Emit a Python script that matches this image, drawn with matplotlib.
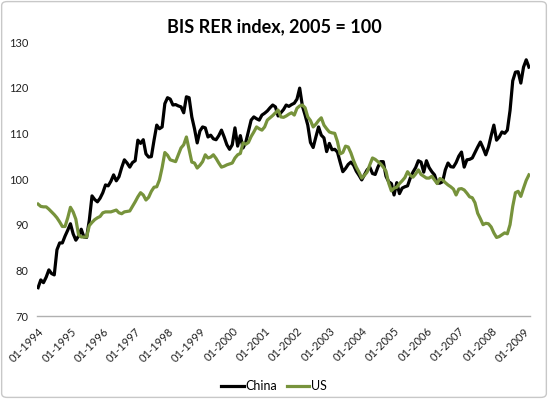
import matplotlib
matplotlib.use("Agg")
import matplotlib.pyplot as plt
from matplotlib.patches import FancyBboxPatch
import numpy as np

# monthly BIS real effective exchange rate, 2005 = 100, from 01-1994 to 03-2009
china = [
    76.2, 77.9, 77.3, 78.5, 80.1, 79.3, 79.0, 84.5, 86.0, 86.0, 87.5, 88.8,        # 1994
    90.2, 88.0, 86.6, 87.5, 89.0, 87.3, 87.2, 91.0, 96.3, 95.5, 95.0, 95.8,        # 1995
    97.0, 98.7, 98.5, 99.5, 100.9, 99.6, 100.5, 102.5, 104.2, 103.5, 102.6, 103.6, # 1996
    104.0, 108.5, 107.8, 108.6, 105.5, 104.8, 104.9, 108.5, 111.8, 111.0, 111.4, 116.5,  # 1997
    117.8, 117.5, 116.2, 116.3, 116.0, 115.8, 114.5, 118.0, 117.8, 113.6, 111.0, 107.9,  # 1998
    110.5, 111.4, 111.2, 109.2, 109.6, 108.8, 108.6, 109.5, 110.7, 109.2, 107.5, 106.5,  # 1999
    107.5, 111.2, 107.2, 109.5, 106.8, 108.0, 110.5, 112.9, 113.6, 113.2, 112.9, 114.0,  # 2000
    114.4, 114.9, 115.6, 116.2, 115.8, 113.8, 114.5, 115.2, 116.2, 115.9, 116.3, 116.6,  # 2001
    117.5, 119.9, 116.0, 114.0, 111.8, 108.0, 106.9, 109.2, 111.4, 109.6, 109.0, 106.0,  # 2002
    107.8, 106.4, 106.5, 105.9, 103.7, 101.6, 102.3, 103.2, 103.7, 103.0, 101.7, 100.8,  # 2003
    99.8, 100.9, 102.0, 102.6, 101.2, 101.0, 102.6, 103.8, 103.8, 100.6, 99.4, 99.0,     # 2004
    96.5, 99.2, 96.8, 98.0, 98.3, 98.5, 100.2, 101.5, 102.5, 104.0, 103.7, 101.5,        # 2005
    104.0, 102.5, 101.6, 100.9, 99.1, 99.1, 99.4, 102.0, 103.5, 102.7, 102.6, 103.6,     # 2006
    105.0, 105.9, 102.6, 104.2, 104.3, 104.6, 105.8, 107.0, 108.1, 106.8, 105.3, 107.0,  # 2007
    109.5, 111.8, 108.5, 109.2, 110.3, 110.0, 110.7, 115.0, 121.5, 123.4, 123.5, 121.0,  # 2008
    124.5, 126.1, 124.5,                                                                 # 2009
]
us = [
    94.5, 94.0, 93.9, 93.9, 93.4, 92.8, 92.2, 91.5, 90.6, 89.6, 89.6, 91.5,        # 1994
    93.8, 92.8, 91.2, 87.8, 87.3, 87.3, 87.3, 89.8, 90.5, 91.1, 91.5, 91.8,        # 1995
    92.6, 92.8, 92.8, 92.8, 93.0, 93.2, 92.6, 92.4, 92.8, 92.9, 93.0, 94.0,        # 1996
    95.0, 96.1, 97.0, 96.5, 95.4, 96.0, 97.3, 98.2, 98.3, 99.8, 102.5, 105.8,      # 1997
    105.2, 104.2, 104.0, 103.8, 105.3, 106.8, 107.5, 109.2, 106.5, 103.7, 103.5, 102.4,  # 1998
    103.0, 103.8, 105.3, 104.6, 104.8, 105.3, 104.5, 103.5, 102.6, 102.8, 103.1, 103.3,  # 1999
    103.5, 104.6, 105.3, 105.6, 107.9, 107.6, 108.0, 109.3, 110.3, 111.4, 111.0, 110.7,  # 2000
    111.4, 112.9, 113.4, 113.9, 114.5, 115.1, 113.6, 113.5, 113.8, 114.2, 114.5, 114.0,  # 2001
    115.5, 116.0, 116.2, 115.6, 113.6, 112.8, 111.4, 112.0, 112.8, 113.4, 111.8, 111.0,  # 2002
    110.3, 110.1, 110.0, 108.2, 105.5, 105.8, 107.2, 107.0, 105.7, 104.0, 102.6, 101.5,  # 2003
    100.2, 100.8, 101.5, 103.1, 104.6, 104.3, 103.8, 103.3, 102.6, 101.7, 99.1, 97.4,    # 2004
    98.0, 98.2, 99.0, 99.6, 100.3, 101.6, 100.8, 100.4, 101.1, 102.0, 101.0, 100.6,      # 2005
    100.2, 100.2, 100.6, 99.8, 99.0, 100.1, 99.8, 99.2, 98.7, 98.3, 97.8, 96.5,          # 2006
    97.8, 97.9, 97.6, 96.9, 96.1, 95.9, 94.8, 92.5, 91.3, 90.0, 90.3, 90.2,              # 2007
    89.5, 88.2, 87.2, 87.4, 87.8, 88.2, 88.0, 90.0, 94.0, 97.0, 97.3, 96.2,              # 2008
    98.0, 99.7, 100.9,                                                                   # 2009
]
years = list(range(1994, 2010))
tick_labels = ["01-%d" % y for y in years]

plt.rcParams['font.family'] = ['Lato', 'DejaVu Sans']

fig = plt.figure(figsize=(5.48, 3.99), dpi=100)
ax = fig.add_axes([37 / 548, 1 - 316 / 399, (530 - 37) / 548, (316 - 42) / 399])

months = np.arange(len(china))
ax.plot(months, china, color="black", lw=2.3, label="China", solid_joinstyle="round")
ax.plot(months, us, color="#77933C", lw=2.3, label="US", solid_joinstyle="round")

ax.set_ylim(70, 130)
ax.set_yticks(range(70, 131, 10))
ax.set_xlim(-0.4, 182.4)
ax.set_xticks([12 * i for i in range(len(years))])
ax.set_xticklabels(tick_labels, rotation=45, ha="right", rotation_mode="anchor")
ax.tick_params(axis="both", length=0, labelsize=8, colors="#222222")
ax.tick_params(axis="x", pad=7)
ax.tick_params(axis="y", pad=6)

for s in ["top", "right", "left"]:
    ax.spines[s].set_visible(False)
ax.spines["bottom"].set_color("#b0b0b0")
ax.spines["bottom"].set_linewidth(1.0)

fig.suptitle("BIS RER index, 2005 = 100", fontsize=13, fontweight="bold", y=0.955)

leg = fig.legend(loc="center", bbox_to_anchor=(0.5, 1 - 386 / 399), ncol=2,
                 frameon=False, fontsize=9, handlelength=1.8, handletextpad=0.1,
                 columnspacing=0.8)

border = FancyBboxPatch((0.003, 0.004), 0.994, 0.992, boxstyle="round,pad=0,rounding_size=0.01",
                        transform=fig.transFigure, fill=False, edgecolor="#c8c8c8", lw=1.0)
fig.patches.append(border)

fig.savefig("out.png", dpi=100)
